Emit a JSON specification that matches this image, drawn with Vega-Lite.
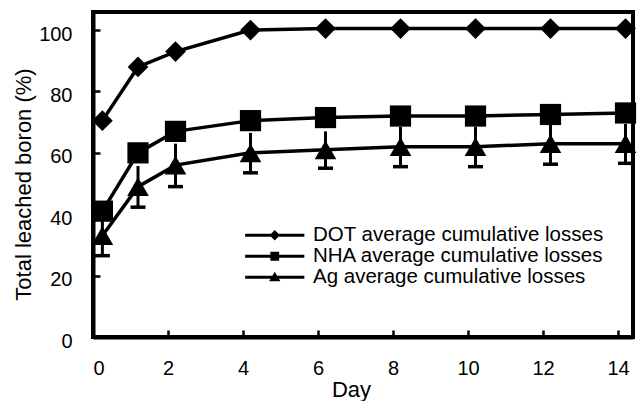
{
  "$schema": "https://vega.github.io/schema/vega-lite/v6.json",
  "width": 540,
  "height": 325,
  "autosize": {"type": "none"},
  "padding": {"left": 93, "top": 12, "right": 4, "bottom": 64},
  "background": "white",
  "config": {
    "font": "Liberation Sans",
    "view": {"stroke": "black", "strokeWidth": 4},
    "axis": {
      "domainColor": "black", "domainWidth": 4,
      "tickColor": "black", "tickWidth": 2.5, "tickSize": -7,
      "labelColor": "black", "labelFontSize": 20, "labelFont": "Liberation Sans",
      "titleColor": "black", "titleFontSize": 22, "titleFontWeight": "normal", "titleFont": "Liberation Sans",
      "grid": false
    },
    "legend": {"padding": 0}
  },
  "data": {"values": [
    {"day": 0.25, "series": "DOT", "value": 70.5},
    {"day": 1.2, "series": "DOT", "value": 88},
    {"day": 2.2, "series": "DOT", "value": 93},
    {"day": 4.2, "series": "DOT", "value": 100},
    {"day": 6.2, "series": "DOT", "value": 100.5},
    {"day": 8.2, "series": "DOT", "value": 100.5},
    {"day": 10.2, "series": "DOT", "value": 100.5},
    {"day": 12.2, "series": "DOT", "value": 100.5},
    {"day": 14.2, "series": "DOT", "value": 100.5},
    {"day": 0.25, "series": "NHA", "value": 41},
    {"day": 1.2, "series": "NHA", "value": 60},
    {"day": 2.2, "series": "NHA", "value": 67},
    {"day": 4.2, "series": "NHA", "value": 70.5},
    {"day": 6.2, "series": "NHA", "value": 71.5},
    {"day": 8.2, "series": "NHA", "value": 72},
    {"day": 10.2, "series": "NHA", "value": 72},
    {"day": 12.2, "series": "NHA", "value": 72.5},
    {"day": 14.2, "series": "NHA", "value": 73},
    {"day": 0.25, "series": "Ag", "value": 33, "lo": 26.5, "hi": 39.5},
    {"day": 1.2, "series": "Ag", "value": 49, "lo": 42.3, "hi": 55.7},
    {"day": 2.2, "series": "Ag", "value": 56, "lo": 49, "hi": 63},
    {"day": 4.2, "series": "Ag", "value": 60, "lo": 53.5, "hi": 66.5},
    {"day": 6.2, "series": "Ag", "value": 61, "lo": 55, "hi": 67},
    {"day": 8.2, "series": "Ag", "value": 62, "lo": 55.5, "hi": 68.5},
    {"day": 10.2, "series": "Ag", "value": 62, "lo": 55.5, "hi": 68.5},
    {"day": 12.2, "series": "Ag", "value": 63, "lo": 56.3, "hi": 69.7},
    {"day": 14.2, "series": "Ag", "value": 63, "lo": 56.6, "hi": 69.4}
  ]},
  "encoding": {
    "x": {"field": "day", "type": "quantitative",
      "scale": {"domain": [0, 14.4], "nice": false, "zero": false},
      "axis": {"values": [0, 2, 4, 6, 8, 10, 12, 14], "title": "Day", "labelPadding": 28,
        "titleX": 258, "titleY": 59, "titleBaseline": "alphabetic"}},
    "y": {"field": "value", "type": "quantitative",
      "scale": {"domain": [0, 105.9], "nice": false},
      "axis": {"values": [0, 20, 40, 60, 80, 100], "title": "Total leached boron (%)", "labelPadding": 28, "labelOffset": 4,
        "titleX": -70, "titleY": 172, "titleBaseline": "middle", "titleAngle": -90}}
  },
  "layer": [
    {
      "transform": [{"filter": "datum.series === 'Ag'"}],
      "mark": {"type": "rule", "color": "black", "strokeWidth": 3},
      "encoding": {"y": {"field": "lo", "type": "quantitative"}, "y2": {"field": "hi"}}
    },
    {
      "transform": [{"filter": "datum.series === 'Ag'"}],
      "mark": {"type": "tick", "orient": "horizontal", "color": "black", "size": 15, "thickness": 3.5, "opacity": 1},
      "encoding": {"y": {"field": "lo", "type": "quantitative"}}
    },
    {
      "mark": {"type": "line", "color": "black", "strokeWidth": 3.5},
      "encoding": {"detail": {"field": "series"}}
    },
    {
      "mark": {"type": "point", "filled": true, "color": "black", "opacity": 1},
      "encoding": {
        "shape": {"field": "series", "type": "nominal",
          "scale": {"domain": ["DOT", "NHA", "Ag"], "range": ["diamond", "square", "triangle-up"]}, "legend": null},
        "size": {"field": "series", "type": "nominal",
          "scale": {"domain": ["DOT", "NHA", "Ag"], "range": [430, 470, 430]}, "legend": null}
      }
    },
    {
      "mark": {"type": "point", "filled": true, "color": "black", "opacity": 0},
      "encoding": {
        "shape": {"field": "series", "type": "nominal",
          "scale": {"domain": ["DOT", "NHA", "Ag"], "range": [
            "M-3.7,-0.18L3.7,-0.18L3.7,0.18L-3.7,0.18ZM0,-0.65L0.65,0L0,0.65L-0.65,0Z",
            "M-3.7,-0.18L3.7,-0.18L3.7,0.18L-3.7,0.18ZM-0.55,-0.55L0.55,-0.55L0.55,0.55L-0.55,0.55Z",
            "M-3.7,-0.18L3.7,-0.18L3.7,0.18L-3.7,0.18ZM0,-0.7L0.7,0.5L-0.7,0.5Z"
          ]},
          "legend": {
            "title": null, "orient": "none", "legendX": 171.5, "legendY": 213,
            "symbolSize": 256, "labelOffset": 28, "labelFontSize": 20.5, "labelColor": "black",
            "labelFont": "Liberation Sans", "rowPadding": -3, "labelLimit": 400,
            "labelExpr": "datum.label + ' average cumulative losses'",
            "encode": {"symbols": {"update": {
              "fill": {"value": "black"}, "stroke": {"value": "black"},
              "strokeWidth": {"value": 0.5}, "opacity": {"value": 1},
              "fillOpacity": {"value": 1}, "strokeOpacity": {"value": 1}
            }}}
          }
        }
      }
    }
  ],
  "resolve": {"scale": {"shape": "independent", "size": "independent"}}
}
